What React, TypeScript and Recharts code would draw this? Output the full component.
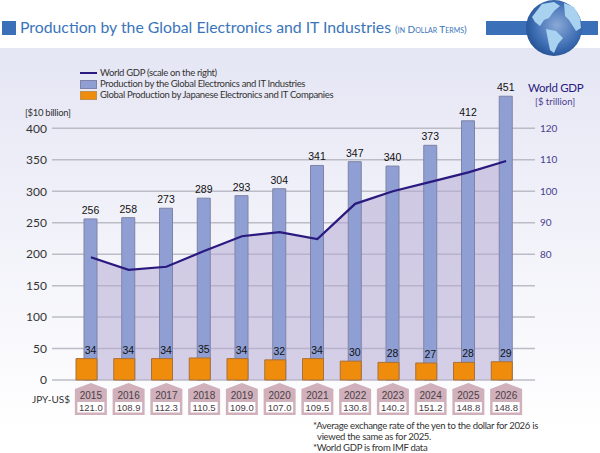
import { Area, Bar, CartesianGrid, ComposedChart, LabelList, Line, XAxis, YAxis } from "recharts"

const years = ["2015", "2016", "2017", "2018", "2019", "2020", "2021", "2022", "2023", "2024", "2025", "2026"]
const jpyRates = ["121.0", "108.9", "112.3", "110.5", "109.0", "107.0", "109.5", "130.8", "140.2", "151.2", "148.8", "148.8"]
const globalProduction = [256, 258, 273, 289, 293, 304, 341, 347, 340, 373, 412, 451]
const japanProduction = [34, 34, 34, 35, 34, 32, 34, 30, 28, 27, 28, 29]
const worldGdp = [79, 75, 76, 81, 85.7, 87, 84.8, 96, 100, 103, 106, 109.6]

const leftTicks = [0, 50, 100, 150, 200, 250, 300, 350, 400]
const rightTicks = [80, 90, 100, 110, 120]

const legendLabels = [
  "World GDP (scale on the right)",
  "Production by the Global Electronics and IT Industries",
  "Global Production by Japanese Electronics and IT Companies",
]

const data = years.map((year, i) => ({
  year,
  rate: jpyRates[i],
  global: globalProduction[i],
  japan: japanProduction[i],
  gdp: worldGdp[i],
}))

const FONT = "Lato, 'Noto Sans', sans-serif"
const LABEL_FONT = "'Liberation Sans', Arial, sans-serif"

const YearTick = ({ x, index, payload }: any) => (
  <g>
    <path
      d={`M${x - 16} 389 L${x} 383 L${x + 16} 389 L${x + 16} 415 L${x - 16} 415 Z`}
      fill="#d0b0ba"
    />
    <rect x={x - 13.5} y={402} width={27} height={10.5} fill="#fff" />
    <text x={x} y={398.5} textAnchor="middle" fontSize={10} fontFamily={LABEL_FONT} fill="#4a4048">
      {payload.value}
    </text>
    <text x={x} y={411} textAnchor="middle" fontSize={9.5} fontFamily={LABEL_FONT} fill="#4a4048">
      {jpyRates[index]}
    </text>
  </g>
)

// japan labels sit over the blue bar, not over the orange one
const JapanLabel = ({ x, y, width, value }: any) => (
  <text x={x + width - 6.5} y={y - 5} textAnchor="middle" fontSize={10.5} fontFamily={LABEL_FONT} fill="#111">
    {value}
  </text>
)

const Globe = () => (
  <svg width={60} height={60} style={{ position: "absolute", left: 524, top: -2 }}>
    <defs>
      <radialGradient id="globe" cx="0.55" cy="0.45" r="0.6">
        <stop offset="0%" stopColor="#8ba9d8" />
        <stop offset="65%" stopColor="#3f6fb4" />
        <stop offset="100%" stopColor="#234f92" />
      </radialGradient>
    </defs>
    <circle cx={30} cy={30} r={28} fill="url(#globe)" />
    <path d="M18 6 L30 4 L36 8 L30 13 L25 20 L20 22 L16 28 L11 24 L8 19 Z" fill="#a9d2f0" />
    <path d="M22 31 L32 33 L39 40 L34 46 L30 55 L26 52 L24 42 Z" fill="#a9d2f0" />
    <path d="M40 5 L50 9 L56 20 L57 30 L52 33 L45 22 L41 18 Z" fill="#a9d2f0" />
  </svg>
)

const App = () => {
  return (
    <div
      style={{
        position: "absolute",
        left: 0,
        top: 0,
        width: 600,
        height: 453,
        background: "#fff",
        overflow: "hidden",
        fontFamily: FONT,
      }}
    >
      <div
        style={{
          position: "absolute",
          left: 0,
          top: 48,
          width: 600,
          height: 385,
          background: "linear-gradient(#e5e6f4, #ffffff)",
        }}
      />
      <div style={{ position: "absolute", left: 2, top: 21, width: 14, height: 14, background: "#3b6fb8" }} />
      <div style={{ position: "absolute", left: 486, top: 21, width: 112, height: 14, background: "#3b6fb8" }} />
      <Globe />
      <div
        style={{
          position: "absolute",
          left: 20,
          top: 17,
          fontSize: 15.8,
          color: "#3a75bb",
          whiteSpace: "nowrap",
        }}
      >
        Production by the Global Electronics and IT Industries{" "}
        <span style={{ fontSize: 10, fontVariant: "small-caps" }}>(in Dollar Terms)</span>
      </div>

      <div style={{ position: "absolute", left: 0, top: 0 }}>
        <ComposedChart
          width={600}
          height={453}
          data={data}
          margin={{ top: 78, right: 0, bottom: 0, left: 0 }}
          barGap={-21}
        >
          <CartesianGrid
            yAxisId="left"
            vertical={false}
            stroke="#bcbcc6"
            strokeWidth={1.5}
            horizontalValues={leftTicks}
          />
          <XAxis
            dataKey="year"
            height={73}
            interval={0}
            padding={{ left: 20, right: 10 }}
            axisLine={false}
            tickLine={false}
            tick={<YearTick />}
          />
          <YAxis
            yAxisId="left"
            width={52}
            domain={[0, 480]}
            ticks={leftTicks}
            axisLine={false}
            tickLine={false}
            tickSize={0}
            tickMargin={5}
            tick={{ fontSize: 12, fill: "#333", fontFamily: FONT }}
          />
          <YAxis
            yAxisId="right"
            orientation="right"
            width={65}
            domain={[40, 136]}
            ticks={rightTicks}
            axisLine={false}
            tickLine={false}
            tickSize={0}
            tickMargin={5}
            tick={{ fontSize: 10, fill: "#4a4090", fontFamily: FONT }}
          />
          <Area
            yAxisId="right"
            dataKey="gdp"
            type="linear"
            stroke="none"
            fill="#b5a9d4"
            fillOpacity={0.55}
            isAnimationActive={false}
          />
          <Bar
            yAxisId="left"
            dataKey="global"
            barSize={13}
            fill="#8f9fd3"
            stroke="#7f83a6"
            isAnimationActive={false}
          >
            <LabelList dataKey="global" position="top" fontSize={10.5} fontFamily={LABEL_FONT} fill="#111" />
          </Bar>
          <Bar
            yAxisId="left"
            dataKey="japan"
            barSize={21}
            fill="#f08c0c"
            stroke="#a8703a"
            isAnimationActive={false}
          >
            <LabelList dataKey="japan" content={<JapanLabel />} />
          </Bar>
          <Line
            yAxisId="right"
            dataKey="gdp"
            type="linear"
            stroke="#2a1a80"
            strokeWidth={2.2}
            dot={false}
            isAnimationActive={false}
          />
        </ComposedChart>
      </div>

      {/* legend */}
      <div style={{ position: "absolute", left: 80, top: 72, width: 17, height: 2, background: "#2a1a80" }} />
      <div
        style={{
          position: "absolute",
          left: 80,
          top: 80,
          width: 15,
          height: 7,
          background: "#8f9fd3",
          border: "1px solid #7f83a6",
        }}
      />
      <div
        style={{
          position: "absolute",
          left: 80,
          top: 91,
          width: 15,
          height: 7,
          background: "#f08c0c",
          border: "1px solid #c09050",
        }}
      />
      {legendLabels.map((label, i) => (
        <div
          key={label}
          style={{
            position: "absolute",
            left: 100,
            top: 66.5 + i * 11,
            fontSize: 9.5,
            lineHeight: "11px",
            letterSpacing: -0.33,
            color: "#333",
            whiteSpace: "nowrap",
          }}
        >
          {label}
        </div>
      ))}

      <div
        style={{
          position: "absolute",
          left: 25,
          top: 107,
          fontSize: 9.5,
          letterSpacing: -0.3,
          color: "#333",
          whiteSpace: "nowrap",
        }}
      >
        [$10 billion]
      </div>
      <div
        style={{
          position: "absolute",
          left: 528,
          top: 81,
          fontSize: 11.5,
          letterSpacing: -0.3,
          color: "#2a1a80",
          whiteSpace: "nowrap",
        }}
      >
        World GDP
      </div>
      <div style={{ position: "absolute", left: 535, top: 96, fontSize: 9.5, color: "#4a4090", whiteSpace: "nowrap" }}>
        [$ trillion]
      </div>
      <div style={{ position: "absolute", left: 32, top: 393, fontSize: 10, color: "#333", whiteSpace: "nowrap" }}>
        JPY-US$
      </div>
      <div
        style={{
          position: "absolute",
          left: 313,
          top: 420,
          fontSize: 9.5,
          lineHeight: "11px",
          letterSpacing: -0.3,
          color: "#333",
          whiteSpace: "nowrap",
        }}
      >
        *Average exchange rate of the yen to the dollar for 2026 is
        <br />
        &nbsp;&nbsp;viewed the same as for 2025.
        <br />
        *World GDP is from IMF data
      </div>
    </div>
  )
}

export default App
